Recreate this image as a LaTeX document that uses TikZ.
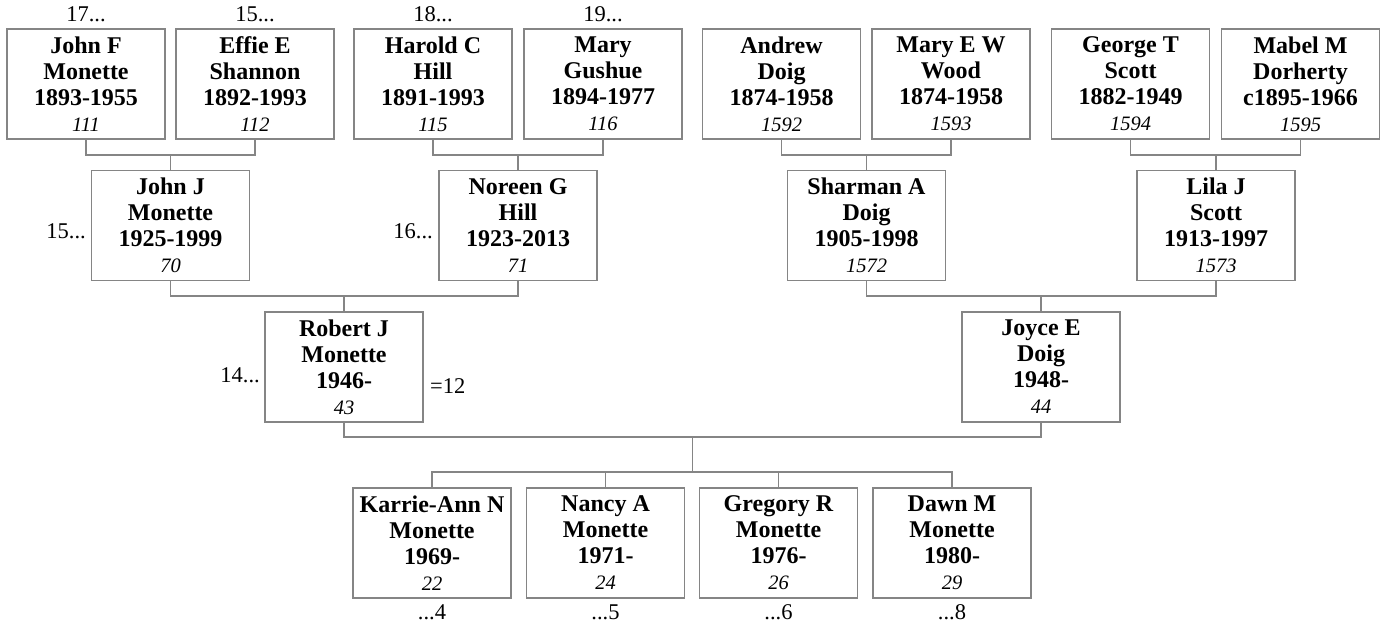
\documentclass[tikz,border=0pt]{standalone}
\usepackage{fontspec}
\setmainfont{Liberation Serif}
\usetikzlibrary{calc}
\definecolor{linegray}{HTML}{858585}
\begin{document}
\begin{tikzpicture}[x=1pt,y=-1pt,
  person/.style={draw=linegray, line width=1.3pt, fill=white, minimum width=158pt, minimum height=110pt,
    inner sep=0pt, align=center, font=\fontsize{24}{26}\selectfont\bfseries},
  conn/.style={draw=linegray, line width=1.3pt},
  lbl/.style={inner sep=0pt, font=\fontsize{22.5}{24}\selectfont}]
\newcommand{\idn}[1]{{\fontsize{20.5}{26}\selectfont\mdseries\itshape #1}}
\useasboundingbox (0,0) rectangle (1382,626);
% junction levels
\coordinate (r1) at (0,155);
\coordinate (r2) at (0,296);
\coordinate (r3) at (0,437);
\coordinate (r4) at (0,472);
% row 1
\node[person] (johnf) at (86,84) {John F\\Monette\\1893-1955\\\idn{111}};
\node[person] (effie) at (255,84) {Effie E\\Shannon\\1892-1993\\\idn{112}};
\node[person] (harold) at (433,84) {Harold C\\Hill\\1891-1993\\\idn{115}};
\node[person] (maryg) at (603,84) {Mary\\Gushue\\1894-1977\\\idn{116}};
\node[person] (andrew) at (781.5,84) {Andrew\\Doig\\1874-1958\\\idn{1592}};
\node[person] (maryw) at (951,84) {Mary E W\\Wood\\1874-1958\\\idn{1593}};
\node[person] (george) at (1130.5,84) {George T\\Scott\\1882-1949\\\idn{1594}};
\node[person] (mabel) at (1300.5,84) {Mabel M\\Dorherty\\c1895-1966\\\idn{1595}};
% row 2
\node[person] (johnj) at (170.5,225.5) {John J\\Monette\\1925-1999\\\idn{70}};
\node[person] (noreen) at (518,225.5) {Noreen G\\Hill\\1923-2013\\\idn{71}};
\node[person] (sharman) at (866.5,225.5) {Sharman A\\Doig\\1905-1998\\\idn{1572}};
\node[person] (lila) at (1216,225.5) {Lila J\\Scott\\1913-1997\\\idn{1573}};
% row 3
\node[person] (robert) at (344,367) {Robert J\\Monette\\1946-\\\idn{43}};
\node[person] (joyce) at (1041,367) {Joyce E\\Doig\\1948-\\\idn{44}};
% row 4
\node[person] (karrie) at (432,543) {Karrie-Ann N\\Monette\\1969-\\\idn{22}};
\node[person] (nancy) at (605.5,543) {Nancy A\\Monette\\1971-\\\idn{24}};
\node[person] (gregory) at (778.5,543) {Gregory R\\Monette\\1976-\\\idn{26}};
\node[person] (dawn) at (952,543) {Dawn M\\Monette\\1980-\\\idn{29}};
% labels
\node[lbl] (l1) at (86,14) {17...};
\node[lbl] (l2) at (255,14) {15...};
\node[lbl] (l3) at (433,14) {18...};
\node[lbl] (l4) at (603,14) {19...};
\node[lbl, anchor=east] (l5) at (86,231) {15...};
\node[lbl, anchor=east] (l6) at (433,231) {16...};
\node[lbl, anchor=east] (l7) at (260,375) {14...};
\node[lbl, anchor=west] (l8) at (430,386) {=12};
\node[lbl] (l9) at (432,612) {...4};
\node[lbl] (l10) at (605.5,612) {...5};
\node[lbl] (l11) at (778.5,612) {...6};
\node[lbl] (l12) at (952,612) {...8};
% connectors
\draw[conn] (johnf.south) -- (johnf.south |- r1) -| (effie.south);
\draw[conn] (johnj.north) -- (johnj.north |- r1);
\draw[conn] (harold.south) -- (harold.south |- r1) -| (maryg.south);
\draw[conn] (noreen.north) -- (noreen.north |- r1);
\draw[conn] (andrew.south) -- (andrew.south |- r1) -| (maryw.south);
\draw[conn] (sharman.north) -- (sharman.north |- r1);
\draw[conn] (george.south) -- (george.south |- r1) -| (mabel.south);
\draw[conn] (lila.north) -- (lila.north |- r1);
\draw[conn] (johnj.south) -- (johnj.south |- r2) -| (noreen.south);
\draw[conn] (robert.north) -- (robert.north |- r2);
\draw[conn] (sharman.south) -- (sharman.south |- r2) -| (lila.south);
\draw[conn] (joyce.north) -- (joyce.north |- r2);
\coordinate (mid) at ($(robert.south)!0.5!(joyce.south)$);
\draw[conn] (robert.south) -- (robert.south |- r3) -| (joyce.south);
\draw[conn] (mid |- r3) -- (mid |- r4);
\draw[conn] (karrie.north) -- (karrie.north |- r4) -| (dawn.north);
\draw[conn] (nancy.north) -- (nancy.north |- r4);
\draw[conn] (gregory.north) -- (gregory.north |- r4);
\end{tikzpicture}
\end{document}
